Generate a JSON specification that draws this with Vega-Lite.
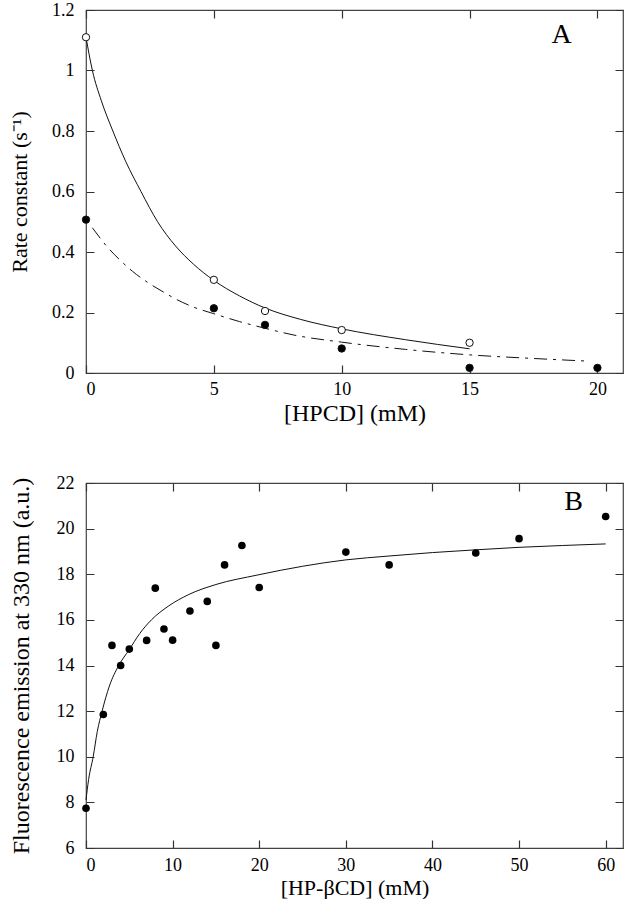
{
  "$schema": "https://vega.github.io/schema/vega-lite/v6.json",
  "padding": {"left": 7, "top": 0, "right": 1, "bottom": 0},
  "background": "white",
  "datasets": {
    "a_points": [
      {"conc": 0, "rate": 1.11, "series": "open"},
      {"conc": 5, "rate": 0.308, "series": "open"},
      {"conc": 7, "rate": 0.205, "series": "open"},
      {"conc": 10, "rate": 0.142, "series": "open"},
      {"conc": 15, "rate": 0.1, "series": "open"},
      {"conc": 0, "rate": 0.507, "series": "filled"},
      {"conc": 5, "rate": 0.214, "series": "filled"},
      {"conc": 7, "rate": 0.159, "series": "filled"},
      {"conc": 10, "rate": 0.081, "series": "filled"},
      {"conc": 15, "rate": 0.017, "series": "filled"},
      {"conc": 20, "rate": 0.017, "series": "filled"}
    ],
    "a_fit": [
      {"conc": 0, "rate": 1.11, "fit": "open"},
      {"conc": 0.25, "rate": 1.0, "fit": "open"},
      {"conc": 0.6, "rate": 0.9, "fit": "open"},
      {"conc": 1.05, "rate": 0.8, "fit": "open"},
      {"conc": 1.55, "rate": 0.7, "fit": "open"},
      {"conc": 2.15, "rate": 0.6, "fit": "open"},
      {"conc": 2.8, "rate": 0.5, "fit": "open"},
      {"conc": 3.5, "rate": 0.42, "fit": "open"},
      {"conc": 4.2, "rate": 0.36, "fit": "open"},
      {"conc": 5, "rate": 0.306, "fit": "open"},
      {"conc": 6, "rate": 0.255, "fit": "open"},
      {"conc": 7, "rate": 0.215, "fit": "open"},
      {"conc": 8.4, "rate": 0.177, "fit": "open"},
      {"conc": 10, "rate": 0.146, "fit": "open"},
      {"conc": 12.5, "rate": 0.11, "fit": "open"},
      {"conc": 15, "rate": 0.08, "fit": "open"},
      {"conc": 0.25, "rate": 0.48, "fit": "filled"},
      {"conc": 0.8, "rate": 0.42, "fit": "filled"},
      {"conc": 1.37, "rate": 0.37, "fit": "filled"},
      {"conc": 1.82, "rate": 0.336, "fit": "filled"},
      {"conc": 2.4, "rate": 0.3, "fit": "filled"},
      {"conc": 3.06, "rate": 0.266, "fit": "filled"},
      {"conc": 3.5, "rate": 0.245, "fit": "filled"},
      {"conc": 4.2, "rate": 0.218, "fit": "filled"},
      {"conc": 5, "rate": 0.196, "fit": "filled"},
      {"conc": 6, "rate": 0.17, "fit": "filled"},
      {"conc": 7, "rate": 0.148, "fit": "filled"},
      {"conc": 8.1, "rate": 0.126, "fit": "filled"},
      {"conc": 10, "rate": 0.102, "fit": "filled"},
      {"conc": 12.5, "rate": 0.078, "fit": "filled"},
      {"conc": 15, "rate": 0.06, "fit": "filled"},
      {"conc": 17.5, "rate": 0.048, "fit": "filled"},
      {"conc": 19.7, "rate": 0.039, "fit": "filled"}
    ],
    "b_points": [
      {"conc": 0, "fluor": 7.74},
      {"conc": 2, "fluor": 11.85},
      {"conc": 3, "fluor": 14.88},
      {"conc": 4, "fluor": 14.0},
      {"conc": 5, "fluor": 14.72},
      {"conc": 7, "fluor": 15.1},
      {"conc": 8, "fluor": 17.39},
      {"conc": 9, "fluor": 15.6},
      {"conc": 10, "fluor": 15.11},
      {"conc": 12, "fluor": 16.39},
      {"conc": 14, "fluor": 16.81},
      {"conc": 15, "fluor": 14.88},
      {"conc": 16, "fluor": 18.41},
      {"conc": 18, "fluor": 19.26},
      {"conc": 20, "fluor": 17.42},
      {"conc": 30, "fluor": 18.97},
      {"conc": 35, "fluor": 18.41},
      {"conc": 45, "fluor": 18.93},
      {"conc": 50, "fluor": 19.56},
      {"conc": 60, "fluor": 20.53}
    ],
    "b_fit": [
      {"conc": 0, "fluor": 8.1},
      {"conc": 0.3, "fluor": 9.0},
      {"conc": 0.83, "fluor": 10.0},
      {"conc": 1.3, "fluor": 11.1},
      {"conc": 1.86, "fluor": 12.0},
      {"conc": 2.7, "fluor": 13.1},
      {"conc": 3.78, "fluor": 14.0},
      {"conc": 5, "fluor": 14.7},
      {"conc": 6.2, "fluor": 15.4},
      {"conc": 7.55, "fluor": 16.0},
      {"conc": 9.5, "fluor": 16.6},
      {"conc": 11.8, "fluor": 17.1},
      {"conc": 15, "fluor": 17.55},
      {"conc": 19.85, "fluor": 17.97},
      {"conc": 25, "fluor": 18.35},
      {"conc": 30, "fluor": 18.63},
      {"conc": 35, "fluor": 18.8},
      {"conc": 40, "fluor": 18.95},
      {"conc": 45, "fluor": 19.07},
      {"conc": 50, "fluor": 19.18},
      {"conc": 55, "fluor": 19.26},
      {"conc": 60, "fluor": 19.33}
    ],
    "one": [{}]
  },
  "vconcat": [
    {
      "width": 537,
      "height": 363,
      "layer": [
        {
          "data": {"name": "a_fit"},
          "transform": [{"filter": "datum.fit === 'open'"}],
          "mark": {"type": "line", "color": "#111", "strokeWidth": 1, "interpolate": "monotone"},
          "encoding": {
            "x": {"field": "conc", "type": "quantitative", "scale": {"domain": [0, 21], "nice": false},
              "axis": {"orient": "bottom", "values": [0, 5, 10, 15, 20], "title": "[HPCD] (mM)",
                "grid": true, "gridDash": [8, 347, 8, 60],
                "labelPadding": 7, "titlePadding": 3, "titleFontSize": 24}},
            "y": {"field": "rate", "type": "quantitative", "scale": {"domain": [0, 1.2], "nice": false},
              "axis": {"orient": "left", "values": [0, 0.2, 0.4, 0.6, 0.8, 1, 1.2], "format": "~g", "title": "Rate constant (s⁻¹)",
                "grid": true, "gridDash": [8, 521, 8, 60],
                "labelPadding": 12, "titlePadding": 20, "titleFontSize": 22}}
          }
        },
        {
          "data": {"name": "a_fit"},
          "transform": [{"filter": "datum.fit === 'filled'"}],
          "mark": {"type": "line", "color": "#111", "strokeWidth": 1, "strokeDash": [13, 6, 3, 6], "interpolate": "monotone"},
          "encoding": {
            "x": {"field": "conc", "type": "quantitative", "axis": null},
            "y": {"field": "rate", "type": "quantitative", "axis": null}
          }
        },
        {
          "data": {"name": "a_points"},
          "mark": {"type": "point", "shape": "circle", "filled": false, "stroke": "#111", "strokeWidth": 1, "opacity": 1},
          "encoding": {
            "x": {"field": "conc", "type": "quantitative", "axis": null},
            "y": {"field": "rate", "type": "quantitative", "axis": null},
            "fill": {"field": "series", "type": "nominal", "scale": {"domain": ["open", "filled"], "range": ["#ffffff", "#000000"]}, "legend": null},
            "size": {"value": 54}
          }
        },
        {
          "data": {"name": "one"},
          "mark": {"type": "text", "text": "A", "font": "Liberation Serif", "fontSize": 28, "align": "center", "baseline": "middle", "color": "#000"},
          "encoding": {
            "x": {"datum": 18.6, "type": "quantitative", "axis": null},
            "y": {"datum": 1.117, "type": "quantitative", "axis": null}
          }
        }
      ],
      "resolve": {"axis": {"x": "independent", "y": "independent"}}
    },
    {
      "width": 537,
      "height": 365,
      "layer": [
        {
          "data": {"name": "b_fit"},
          "mark": {"type": "line", "color": "#111", "strokeWidth": 1, "interpolate": "monotone"},
          "encoding": {
            "x": {"field": "conc", "type": "quantitative", "scale": {"domain": [0, 62], "nice": false},
              "axis": {"orient": "bottom", "values": [0, 10, 20, 30, 40, 50, 60], "title": "[HP-βCD] (mM)",
                "grid": true, "gridDash": [8, 349, 8, 60],
                "labelPadding": 8, "titlePadding": 3, "titleFontSize": 22}},
            "y": {"field": "fluor", "type": "quantitative", "scale": {"domain": [6, 22], "nice": false},
              "axis": {"orient": "left", "values": [6, 8, 10, 12, 14, 16, 18, 20, 22], "title": "Fluorescence emission at 330 nm (a.u.)",
                "grid": true, "gridDash": [8, 521, 8, 60],
                "labelPadding": 12, "titlePadding": 23, "titleFontSize": 24}}
          }
        },
        {
          "data": {"name": "b_points"},
          "mark": {"type": "circle", "color": "#000", "opacity": 1, "size": 58},
          "encoding": {
            "x": {"field": "conc", "type": "quantitative", "axis": null},
            "y": {"field": "fluor", "type": "quantitative", "axis": null}
          }
        },
        {
          "data": {"name": "one"},
          "mark": {"type": "text", "text": "B", "font": "Liberation Serif", "fontSize": 28, "align": "center", "baseline": "middle", "color": "#000"},
          "encoding": {
            "x": {"datum": 56.3, "type": "quantitative", "axis": null},
            "y": {"datum": 21.15, "type": "quantitative", "axis": null}
          }
        }
      ],
      "resolve": {"axis": {"x": "independent", "y": "independent"}}
    }
  ],
  "spacing": 110,
  "bounds": "flush",
  "config": {
    "font": "Liberation Serif",
    "view": {"stroke": "#444", "strokeWidth": 1.2},
    "axis": {
      "zindex": 1,
      "labelFont": "Liberation Serif",
      "labelFontSize": 18,
      "labelColor": "#000",
      "titleFont": "Liberation Serif",
      "titleFontSize": 24,
      "titleFontWeight": "normal",
      "titleColor": "#000",
      "ticks": false,
      "tickSize": 0,
      "domain": false,
      "gridColor": "#333",
      "gridWidth": 1.2,
      "gridOpacity": 1
    }
  }
}
